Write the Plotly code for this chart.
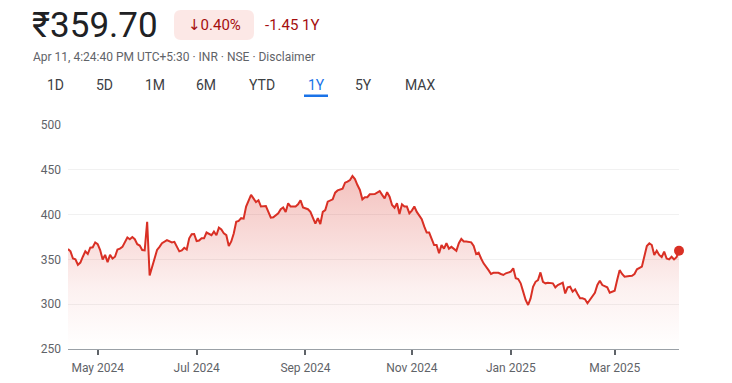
import plotly.graph_objects as go

# ---- data (trading-day index since Apr 12 2024, closing price in INR) ----
days = [0,1,2,3,4,5,6,7,8,9,10,11,12,13,14,15,16,17,18,19,20,21,22,23,24,25,26,27,28,29,
        30,31,32,33,34,35,36,37,38,40,41,42,43,44,45,46,47,48,49,50,51,52,53,54,55,56,57,58,59,
        60,61,62,63,64,65,66,67,68,69,70,71,72,74,75,76,77,78,80,81,82,83,85,86,87,88,89,90,92,
        93,94,95,97,98,99,100,101,102,103,104,105,107,108,109,111,112,113,114,115,116,117,118,
        119,120,121,122,124,125,126,127,128,129,130,131,132,133,134,135,136,137,138,139,140,141,
        143,144,145,146,147,148,149,150,151,152,153,154,155,157,158,159,160,161,163,164,165,166,
        167,168,170,171,172,174,175,176,177,179,180,181,182,183,184,185,186,187,188,189,190,191,
        192,193,194,196,197,198,200,201,202,203,204,205,206,207,208,209,210,211,213,214,215,216,
        218,219,220,221,222,223,224,225,227,228,229,230,232,233,234,235,236,237,238,239,240,241,
        242,243,244,245,246,247]
closes = [361.6,359,351,350,344,346.5,353,359,356,363,363.5,369,367,360.5,350,355,347,355,351,353,
          361,362,364,370,374.5,372.5,375,372.5,367,365.5,360.5,360,392,332,342,349.5,360.5,364,368,
          371.6,370,369,369.6,364,359,360,363,361,373.5,378,378.3,370.5,371,373.5,373.5,380,378,377,
          381,377,385.4,383.5,379,377,365,370,379,392,393,396,395.5,409,422,418,414,416,409,409.6,
          403,396.7,397,401.5,406,408,403,412.6,409,409,411.5,416,408,406,403,397,390,396,389.5,403,
          405,414.5,417,424.5,427,429,435.6,436.8,438.6,443,439.7,433,427.5,417,419.4,419.4,422.7,
          423,425,426.3,422,418,425,420,410.7,407.7,412.6,400.7,411.5,409,409,401.5,404.5,409,403,
          395,386.8,380,380,372,366,366,356.8,366,362,368,362,364,359.6,368,372.8,370,370,369,365,
          356,357.5,351,345.6,338,333.7,335,335,333.7,332.6,334.5,336.3,340,329,328,323.3,314,304.7,
          299.1,306.5,319.5,325,327,335.5,325,323.3,324,323.3,318.8,321.4,324,312,318.8,319.5,314,
          316.6,311.4,306.6,306.6,305.5,301,304.7,312.8,321.4,326.2,321.4,318.8,312.8,314,315,327,
          338,333.7,330.7,331.5,331.8,333.7,339,341.9,353,365,368,366,355,359.7,355,352.5,358.6,351,
          350,353,350,352.5,359.7]

month_ticks = [12, 52, 96, 139, 179, 221]
month_labels = ["May 2024", "Jul 2024", "Sep 2024", "Nov 2024", "Jan 2025", "Mar 2025"]
y_ticks = [250, 300, 350, 400, 450, 500]

price_text = "₹359.70"
change_pct = "↓0.40%"
change_abs = "-1.45 1Y"
subtitle = "Apr 11, 4:24:40 PM UTC+5:30 · INR · NSE · Disclaimer"
tabs = ["1D", "5D", "1M", "6M", "YTD", "1Y", "5Y", "MAX"]
active_tab = "1Y"

# ---- layout geometry (page body has an 8px default margin) ----
OFF = 8
W, H = 732 - OFF, 383 - OFF
PL, PR, PT, PB = 68, 679, 125, 349          # plot box in window pixels
L, R, T, B = PL - OFF, W - (PR - OFF), PT - OFF, H - (PB - OFF)
PW, PH = PR - PL, PB - PT

def px(x):
    return (x - PL) / PW

def py(y):
    return (PB - y) / PH

RED = "#d93025"
FONT = "Roboto, 'Noto Sans', 'DejaVu Sans', sans-serif"

fig = go.Figure()
fig.add_trace(go.Scatter(
    x=days, y=closes, mode="lines",
    line=dict(color=RED, width=2),
    fill="tozeroy",
    fillgradient=dict(type="vertical", start=250, stop=445,
                      colorscale=[[0, "rgba(217,48,37,0.0)"], [0.35, "rgba(217,48,37,0.07)"],
                                  [1, "rgba(217,48,37,0.30)"]]),
    hoverinfo="skip", showlegend=False,
))
fig.add_trace(go.Scatter(
    x=[days[-1]], y=[closes[-1]], mode="markers",
    marker=dict(color=RED, size=10), cliponaxis=False,
    hoverinfo="skip", showlegend=False,
))

annotations = []
annotations.append(dict(text=price_text, x=px(30), y=py(25), xref="paper", yref="paper",
                        xanchor="left", yanchor="middle", showarrow=False,
                        font=dict(family=FONT, size=35, color="#202124")))
annotations.append(dict(text=change_pct, x=px(214), y=py(25), xref="paper", yref="paper",
                        xanchor="center", yanchor="middle", showarrow=False,
                        font=dict(family=FONT, size=15, color="#a50e0e")))
annotations.append(dict(text=change_abs, x=px(263), y=py(25), xref="paper", yref="paper",
                        xanchor="left", yanchor="middle", showarrow=False,
                        font=dict(family=FONT, size=15, color="#a50e0e")))
annotations.append(dict(text=subtitle, x=px(31), y=py(57), xref="paper", yref="paper",
                        xanchor="left", yanchor="middle", showarrow=False,
                        font=dict(family=FONT, size=12, color="#5f6368")))
tab_centers = [55, 104.5, 155, 206, 262, 316, 363.5, 420.5]
for t, cx in zip(tabs, tab_centers):
    annotations.append(dict(text=t, x=px(cx), y=py(85), xref="paper", yref="paper",
                            xanchor="center", yanchor="middle", showarrow=False,
                            font=dict(family=FONT, size=14,
                                      color="#1a73e8" if t == active_tab else "#3c4043")))

# rounded badge behind the percentage change
x0, x1, y0, y1, r = 174, 254, 10, 40, 7
badge = (f"M {px(x0+r)},{py(y0)} L {px(x1-r)},{py(y0)} Q {px(x1)},{py(y0)} {px(x1)},{py(y0+r)} "
         f"L {px(x1)},{py(y1-r)} Q {px(x1)},{py(y1)} {px(x1-r)},{py(y1)} "
         f"L {px(x0+r)},{py(y1)} Q {px(x0)},{py(y1)} {px(x0)},{py(y1-r)} "
         f"L {px(x0)},{py(y0+r)} Q {px(x0)},{py(y0)} {px(x0+r)},{py(y0)} Z")
shapes = [
    dict(type="path", path=badge, xref="paper", yref="paper",
         fillcolor="#fce8e6", line=dict(width=0), layer="below"),
    dict(type="rect", xref="paper", yref="paper", x0=px(304), x1=px(328), y0=py(97), y1=py(94.5),
         fillcolor="#1a73e8", line=dict(width=0)),
]

fig.update_layout(
    width=W, height=H,
    margin=dict(l=L, r=R, t=T, b=B, autoexpand=False),
    paper_bgcolor="white", plot_bgcolor="white",
    annotations=annotations, shapes=shapes,
    font=dict(family=FONT),
    xaxis=dict(range=[0, 247], tickvals=month_ticks, ticktext=month_labels, automargin=False,
               showgrid=False, zeroline=False, showline=True, linecolor="#9aa0a6", linewidth=1,
               ticks="outside", ticklen=5, tickwidth=2, tickcolor="#5f6368",
               tickfont=dict(family=FONT, size=12, color="#5f6368"), ticklabelstandoff=3,
               fixedrange=True),
    yaxis=dict(range=[250, 500], tickvals=y_ticks, showgrid=True, gridcolor="#f1f1f1",
               automargin=False,
               gridwidth=1, zeroline=False, showline=False, ticks="",
               tickfont=dict(family=FONT, size=12, color="#5f6368"), ticklabelstandoff=6,
               fixedrange=True),
)

fig.write_html("out.html")
